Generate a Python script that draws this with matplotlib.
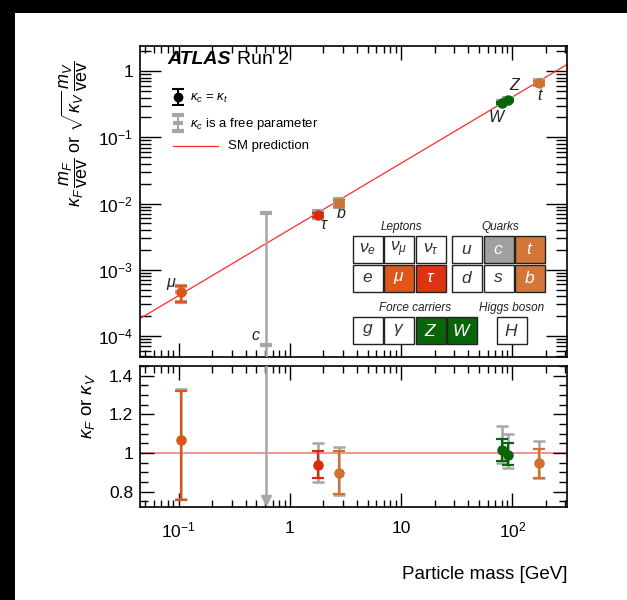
import numpy as np
import matplotlib
matplotlib.use("Agg")
import matplotlib.pyplot as plt
from matplotlib.patches import Rectangle
from matplotlib.ticker import FuncFormatter, LogLocator, MultipleLocator, NullFormatter

plt.rcParams['font.family'] = ['Liberation Sans', 'DejaVu Sans']
plt.rcParams['mathtext.fontset'] = 'custom'
plt.rcParams['mathtext.rm'] = 'Liberation Sans'
plt.rcParams['mathtext.it'] = 'Liberation Sans:italic'
plt.rcParams['mathtext.bf'] = 'Liberation Sans:bold'

vev = 246.0

# particles measured with kappa_c = kappa_t
names = ['mu', 'tau', 'b', 't', 'W', 'Z']
symbols = [r'$\mu$', r'$\tau$', r'$b$', r'$t$', r'$W$', r'$Z$']
masses = [0.1057, 1.777, 2.76, 172.5, 80.4, 91.19]
is_boson = [False, False, False, False, True, True]
kappa = [1.067, 0.938, 0.897, 0.95, 1.017, 0.99]
kappa_hi = [1.32, 1.01, 1.01, 1.02, 1.07, 1.05]
kappa_lo = [0.755, 0.87, 0.785, 0.87, 0.96, 0.94]
colors = ['#dc5514', '#d92a0e', '#cf7132', '#cf7132', '#0a640a', '#0a640a']

# kappa_c as a free parameter (grey)
free_names = ['mu', 'tau', 'b', 'c', 't', 'W', 'Z']
free_masses = [0.1057, 1.777, 2.76, 0.61, 172.5, 80.4, 91.19]
free_boson = [False, False, False, False, False, True, True]
free_kappa = [1.067, 0.938, 0.897, 0.029, 0.95, 1.017, 0.99]
free_hi = [1.33, 1.05, 1.03, 2.95, 1.06, 1.14, 1.10]
free_lo = [0.76, 0.85, 0.78, 0.001, 0.87, 0.95, 0.92]

# label offsets next to the points (points)
label_offsets = {'mu': (-7, 6), 'tau': (5, -7), 'b': (2, -7), 'c': (-7, 7),
                 't': (1, -9), 'W': (-3, -10), 'Z': (5, 11)}

grey = '#a6a6a6'

# particle table
table_rows = [
    [(r'$\nu_e$', 'white'), (r'$\nu_\mu$', 'white'), (r'$\nu_\tau$', 'white'),
     (r'$u$', 'white'), (r'$c$', '#a0a0a0'), (r'$t$', '#d2763a')],
    [(r'$e$', 'white'), (r'$\mu$', '#e0561a'), (r'$\tau$', '#dc3412'),
     (r'$d$', 'white'), (r'$s$', 'white'), (r'$b$', '#d2763a')],
]
bosons_row = [(r'$g$', 'white'), (r'$\gamma$', 'white'), (r'$Z$', '#0a640a'),
              (r'$W$', '#0a640a'), (r'$H$', 'white')]


def scaled(k, m, boson):
    k = np.asarray(k, float)
    return np.where(boson, np.sqrt(k), k) * np.asarray(m) / vev


fig = plt.figure(figsize=(6.27, 6.0), dpi=100)
W_, H_ = 627.0, 600.0
ax1 = fig.add_axes([140 / W_, 1 - 357 / H_, 427 / W_, 311 / H_])
ax2 = fig.add_axes([140 / W_, 1 - 507 / H_, 427 / W_, 141 / H_], sharex=ax1)

xlim = (0.045, 310)
ax1.set_xscale('log')
ax1.set_yscale('log')
ax1.set_xlim(*xlim)
ax1.set_ylim(4.8e-5, 2.4)
ax2.set_ylim(0.72, 1.45)

# SM prediction
ax1.plot(xlim, np.array(xlim) / vev, color='#ff2a2a', lw=0.9, zorder=2)
ax2.axhline(1.0, color='#f08080', lw=1.2, zorder=1)

fb = np.array(free_boson)
fy = scaled(free_kappa, free_masses, fb)
fyh = scaled(free_hi, free_masses, fb)
fyl = scaled(free_lo, free_masses, fb)
ax1.errorbar(free_masses, fy, yerr=[fy - fyl, fyh - fy], fmt='_', color=grey,
             ms=8, mew=3, elinewidth=1.8, capsize=4, capthick=1.8, zorder=3)

for i, nm in enumerate(free_names):
    if nm == 'c':
        ax2.plot([free_masses[i]] * 2, [0.755, free_hi[i]], color=grey, lw=1.8, zorder=3)
        ax2.plot(free_masses[i], 0.755, marker='v', color=grey, ms=7, zorder=3)
    else:
        ax2.errorbar(free_masses[i], free_kappa[i],
                     yerr=[[free_kappa[i] - free_lo[i]], [free_hi[i] - free_kappa[i]]],
                     fmt='o', color=grey, ms=6, elinewidth=1.8, capsize=4,
                     capthick=1.8, zorder=3)

bb = np.array(is_boson)
y = scaled(kappa, masses, bb)
yh = scaled(kappa_hi, masses, bb)
yl = scaled(kappa_lo, masses, bb)
for i in range(len(names)):
    ax1.errorbar(masses[i], y[i], yerr=[[y[i] - yl[i]], [yh[i] - y[i]]], fmt='o',
                 color=colors[i], ms=6.5, elinewidth=1.6, capsize=4, capthick=1.6,
                 zorder=4)
    ax2.errorbar(masses[i], kappa[i],
                 yerr=[[kappa[i] - kappa_lo[i]], [kappa_hi[i] - kappa[i]]], fmt='o',
                 color=colors[i], ms=6.5, elinewidth=1.6, capsize=4, capthick=1.6,
                 zorder=4)

# point labels
lab_sym = dict(zip(names, symbols))
lab_sym['c'] = r'$c$'
for nm, m, yy in zip(free_names, free_masses, fy):
    dx, dy = label_offsets[nm]
    ax1.annotate(lab_sym[nm], (m, yy), xytext=(dx, dy), textcoords='offset points',
                 ha='center', va='center', fontsize=11.5, color='#222222')

# axes styling
log_fmt = FuncFormatter(lambda v, p: '1' if np.isclose(v, 1) else
                        ('10' if np.isclose(v, 10) else
                         r'$10^{%d}$' % int(round(np.log10(v)))))
for ax in (ax1, ax2):
    for s in ax.spines.values():
        s.set_linewidth(1.2)
    ax.tick_params(which='both', direction='in', top=True, right=True,
                   labelsize=12.5, width=1.0, pad=5)
    ax.tick_params(axis='x', which='major', length=10, pad=10)
    ax.tick_params(axis='x', which='minor', length=5)
    ax.xaxis.set_major_locator(LogLocator(base=10, numticks=10))
    ax.xaxis.set_minor_locator(LogLocator(base=10, subs=np.arange(2, 10), numticks=10))
ax1.tick_params(axis='y', which='major', length=15)
ax1.tick_params(axis='y', which='minor', length=8)
ax1.yaxis.set_major_locator(LogLocator(base=10, numticks=10))
ax1.yaxis.set_minor_locator(LogLocator(base=10, subs=np.arange(2, 10), numticks=10))
ax1.yaxis.set_major_formatter(log_fmt)
ax1.yaxis.set_minor_formatter(NullFormatter())
ax1.tick_params(axis='x', labelbottom=False)
ax2.xaxis.set_major_formatter(log_fmt)
ax2.xaxis.set_minor_formatter(NullFormatter())
ax2.yaxis.set_major_locator(MultipleLocator(0.2))
ax2.yaxis.set_minor_locator(MultipleLocator(0.05))
ax2.yaxis.set_major_formatter(FuncFormatter(lambda v, p: '1' if np.isclose(v, 1) else '%.1f' % v))
ax2.tick_params(axis='y', which='major', length=10)
ax2.tick_params(axis='y', which='minor', length=6)

ax1.set_ylabel(r'$\kappa_F\,\dfrac{m_F}{\mathrm{vev}}$ or $\sqrt{\kappa_V}\,\dfrac{m_V}{\mathrm{vev}}$',
               fontsize=13)
ax1.yaxis.set_label_coords(-0.118, 0.72)
ax2.set_ylabel(r'$\kappa_F$ or $\kappa_V$', fontsize=13.5)
ax2.yaxis.set_label_coords(-0.10, 0.72)
ax2.set_xlabel('Particle mass [GeV]', fontsize=13.5, loc='right', labelpad=18)

# overlay in pixel coordinates: ATLAS label, legend, particle table
ov = fig.add_axes([0, 0, 1, 1], facecolor='none')
ov.set_autoscale_on(False)
ov.set_xlim(0, W_)
ov.set_ylim(H_, 0)
ov.axis('off')

ov.text(167, 60, 'ATLAS', fontsize=14, fontweight='bold', style='italic',
        ha='left', va='center')
ov.text(237, 60, 'Run 2', fontsize=14, ha='left', va='center')

ov.errorbar(178, 97, yerr=8, fmt='o', color='black', ms=6, elinewidth=1.5,
            capsize=4, capthick=1.5)
ov.text(190, 98, r'$\kappa_c$ = $\kappa_t$', fontsize=9.5, va='center')
ov.errorbar(178, 123, yerr=8, fmt='_', color=grey, ms=7, mew=3, elinewidth=1.5,
            capsize=4, capthick=1.5)
ov.text(190, 124, r'$\kappa_c$ is a free parameter', fontsize=9.5, va='center')
ov.plot([173, 218], [146, 146], color='#ff2a2a', lw=0.9)
ov.text(228, 146, 'SM prediction', fontsize=9.5, va='center')

cell_w, cell_h, step = 30.0, 27.0, 31.5
for r, row in enumerate(table_rows):
    for c, (sym, fc) in enumerate(row):
        x0 = 352.5 + c * step + (5 if c >= 3 else 0)
        y0 = 236 + r * 28.5
        ov.add_patch(Rectangle((x0, y0), cell_w, cell_h, facecolor=fc,
                               edgecolor='#222222', lw=1.0))
        ov.text(x0 + cell_w / 2, y0 + cell_h / 2, sym, fontsize=12.5, ha='center',
                va='center', color='#333333' if fc == 'white' else 'white')
for c, (sym, fc) in enumerate(bosons_row):
    x0 = 352.5 + c * step + (18 if c >= 4 else 0)
    y0 = 317
    ov.add_patch(Rectangle((x0, y0), cell_w, cell_h, facecolor=fc,
                           edgecolor='#222222', lw=1.0))
    ov.text(x0 + cell_w / 2, y0 + cell_h / 2, sym, fontsize=12.5, ha='center',
            va='center', color='#333333' if fc == 'white' else 'white')
for txt, xc, yc in [('Leptons', 401, 227), ('Quarks', 500, 227),
                    ('Force carriers', 415, 308), ('Higgs boson', 512, 308)]:
    ov.text(xc, yc, txt, fontsize=8.5, style='italic', ha='center', va='center',
            color='#222222')

# black frame bands of the original screenshot
ov.add_patch(Rectangle((0, 0), 15, H_, color='black', lw=0))
ov.add_patch(Rectangle((0, 0), W_, 13, color='black', lw=0))

fig.savefig('out.png', dpi=100)
